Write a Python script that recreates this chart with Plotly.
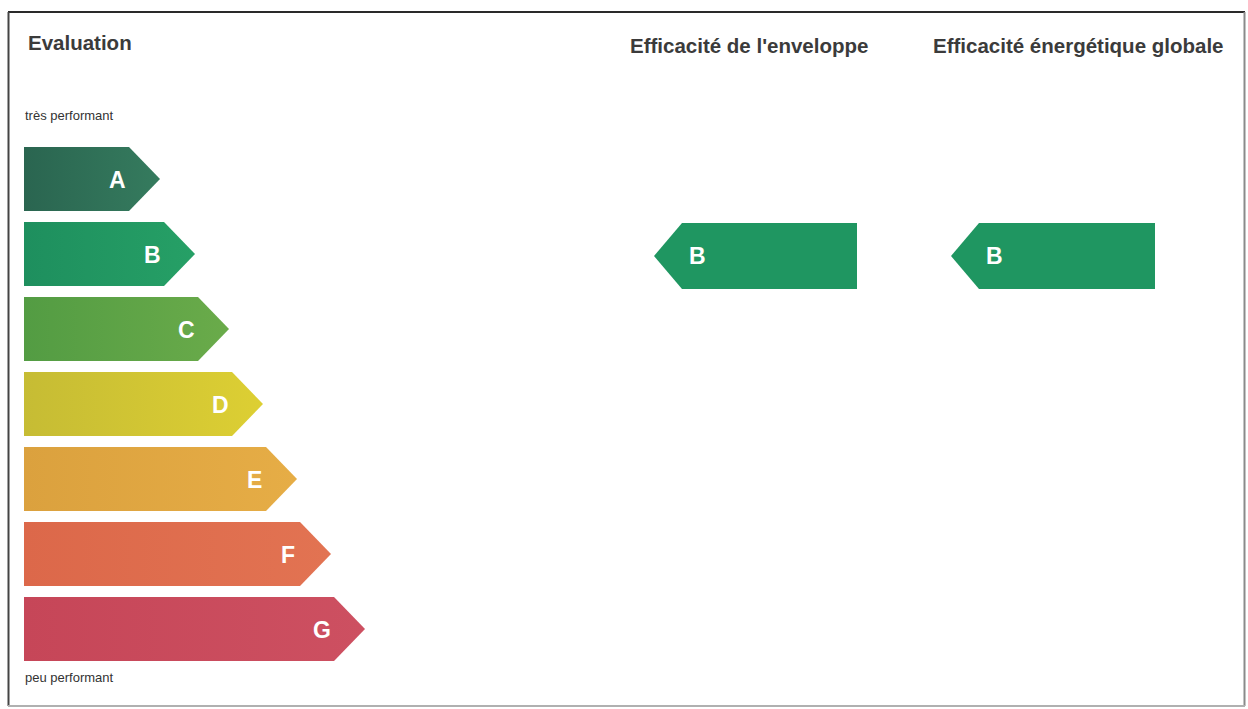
import plotly.graph_objects as go

# ---- data ----
grades = ["A", "B", "C", "D", "E", "F", "G"]
grade_colors_left = ["#2a6550", "#1e8f5e", "#539c43", "#c6bc34", "#dba13e", "#dc684a", "#c64658"]
grade_colors_right = ["#357b5e", "#26a066", "#6aab4a", "#ddcf33", "#e6ad46", "#e27352", "#cd5061"]
bar_tips = [160, 195, 229, 263, 297, 331, 365]          # x value of each arrow tip
indicators = ["Efficacité de l'enveloppe", "Efficacité énergétique globale"]
ratings = ["B", "B"]
indicator_title_x = [749, 1078]
indicator_arrow_tip = [654, 951]
indicator_arrow_end = [857, 1155]
rating_color = "#1f9661"
scale_labels = ["très performant", "peu performant"]
title_text = "Evaluation"

# ---- layout constants ----
W, H = 1248, 709
x_left = 24
row_top0 = 147
row_step = 75
row_h = 64
tip_depth = 31
FONT = "Liberation Sans, Arial, sans-serif"

fig = go.Figure()

row_center = {}
for i, g in enumerate(grades):
    top = row_top0 + i * row_step
    bot = top + row_h
    mid = (top + bot) / 2
    row_center[g] = mid
    tip = bar_tips[i]
    rend = tip - tip_depth
    xs = [x_left, rend, tip, rend, x_left, x_left]
    ys = [top, top, mid, bot, bot, top]
    fig.add_trace(go.Scatter(
        x=xs, y=ys, mode="lines", fill="toself",
        line=dict(width=0), fillcolor=grade_colors_left[i],
        fillgradient=dict(type="horizontal",
                          colorscale=[[0, grade_colors_left[i]], [1, grade_colors_right[i]]]),
        hoverinfo="skip", showlegend=False))
    fig.add_annotation(x=tip - 43, y=mid + 1, text=f"<b>{g}</b>", showarrow=False,
                       font=dict(family=FONT, size=23, color="white"),
                       xanchor="center", yanchor="middle")

# indicator arrows (pointing left), placed on the row of their rating
for k, (name, r) in enumerate(zip(indicators, ratings)):
    mid = row_center[r] + 2
    top, bot = mid - 33, mid + 33
    tip_x = indicator_arrow_tip[k]
    rs = tip_x + 28
    re_ = indicator_arrow_end[k]
    xs = [tip_x, rs, re_, re_, rs, tip_x]
    ys = [mid, top, top, bot, bot, mid]
    fig.add_trace(go.Scatter(x=xs, y=ys, mode="lines", fill="toself",
                             line=dict(width=0), fillcolor=rating_color,
                             hoverinfo="skip", showlegend=False))
    fig.add_annotation(x=tip_x + 43, y=mid, text=f"<b>{r}</b>", showarrow=False,
                       font=dict(family=FONT, size=23, color="white"),
                       xanchor="center", yanchor="middle")
    fig.add_annotation(x=indicator_title_x[k], y=45, text=f"<b>{name}</b>", showarrow=False,
                       font=dict(family=FONT, size=20.5, color="#3b3b3b"),
                       xanchor="center", yanchor="middle")

fig.add_annotation(x=26, y=42, text=f"<b>{title_text}</b>", showarrow=False,
                   font=dict(family=FONT, size=20.5, color="#3b3b3b"),
                   xanchor="left", yanchor="middle")
fig.add_annotation(x=x_left - 1, y=115, text=scale_labels[0], showarrow=False,
                   font=dict(family=FONT, size=13, color="#333333"),
                   xanchor="left", yanchor="middle")
fig.add_annotation(x=x_left - 1, y=677, text=scale_labels[1], showarrow=False,
                   font=dict(family=FONT, size=13, color="#333333"),
                   xanchor="left", yanchor="middle")

# frame (scanned border: dark top/left, lighter right/bottom)
fig.add_shape(type="line", x0=8, y0=12, x1=1245, y1=12, line=dict(color="#2a2a2a", width=2))
fig.add_shape(type="line", x0=8.5, y0=12, x1=8.5, y1=706, line=dict(color="#444444", width=2))
fig.add_shape(type="line", x0=1244.5, y0=12, x1=1244.5, y1=706, line=dict(color="#8a8a8a", width=2))
fig.add_shape(type="line", x0=8, y0=706, x1=1245, y1=706, line=dict(color="#b0b0b0", width=2))

fig.update_layout(
    width=W, height=H,
    margin=dict(l=0, r=0, t=0, b=0),
    paper_bgcolor="white", plot_bgcolor="white",
    xaxis=dict(range=[0, W], visible=False, fixedrange=True),
    yaxis=dict(range=[H, 0], visible=False, fixedrange=True),
    showlegend=False,
)

fig.write_html("out.html", config={"displayModeBar": False},
               post_script="document.body.style.margin='0';document.body.style.overflow='hidden';")
